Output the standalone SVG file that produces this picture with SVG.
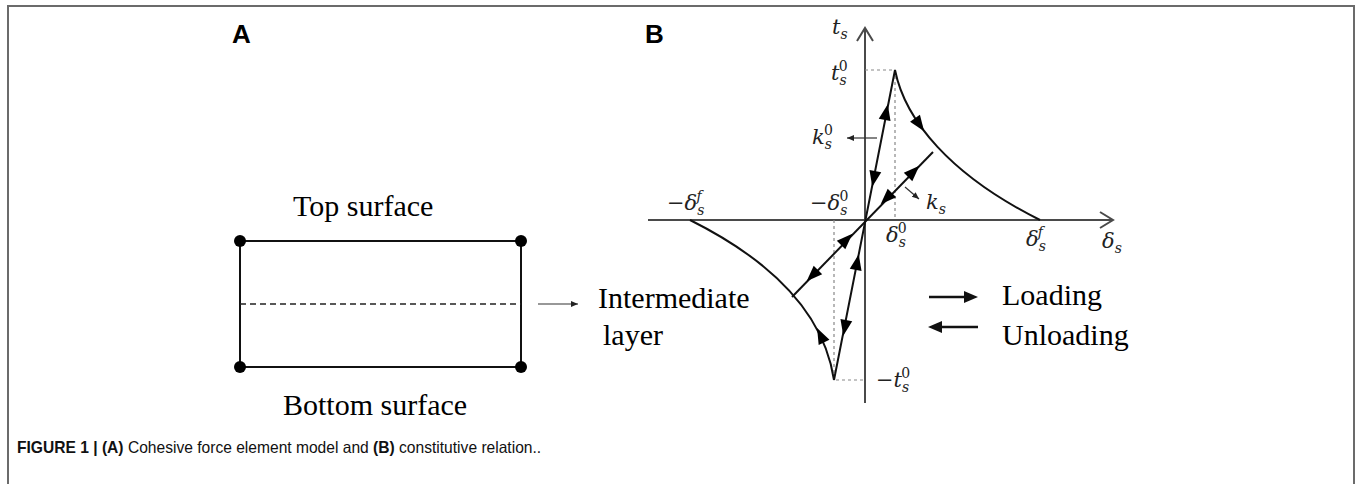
<svg xmlns="http://www.w3.org/2000/svg" width="1356" height="484" viewBox="0 0 1356 484">
<style>
.frame{fill:none;stroke:#6b6b6b;stroke-width:2}
.lbl{font-family:"Liberation Sans",Arial,sans-serif;font-weight:bold;font-size:26px;fill:#000}
.tx{font-family:"Liberation Serif","Times New Roman",serif;font-size:30px;fill:#000}
.m{font-family:"DejaVu Serif","Liberation Serif",serif;font-style:italic;font-size:21px;fill:#222}
.sm{font-size:14px}
.up{font-style:normal}
.ln{stroke:#111;stroke-width:2;fill:none}
.ax{stroke:#4a4a4a;stroke-width:2;fill:none}
.dash{stroke:#888;stroke-width:1.2;stroke-dasharray:3,3;fill:none}
.thin{stroke:#333;stroke-width:1.2;fill:none}
.cap{font-family:"Liberation Sans",Arial,sans-serif;font-size:16.5px;fill:#111}
</style>
<defs>
<path id="ah" d="M9,0 L-7,-6 L-7,6 Z" fill="#000"/>
<marker id="sm" markerWidth="8" markerHeight="8" refX="7" refY="4" orient="auto" markerUnits="userSpaceOnUse">
<path d="M0,1 L7,4 L0,7 Z" fill="#222"/>
</marker>
</defs>
<rect width="1356" height="484" fill="#fff"/>
<path class="frame" d="M8,490 V6 H1354 V490"/>
<text class="lbl" x="232" y="43">A</text>
<text class="lbl" x="645" y="43">B</text>

<g id="panelA">
<g id="element">
<rect x="240" y="241" width="281" height="126" fill="none" stroke="#111" stroke-width="2"/>
<line x1="240" y1="304" x2="521" y2="304" stroke="#222" stroke-width="1.6" stroke-dasharray="6,4"/>
<circle cx="240" cy="241" r="6"/><circle cx="521" cy="241" r="6"/>
<circle cx="240" cy="367" r="6"/><circle cx="521" cy="367" r="6"/>
</g>
<g id="top-label"><text class="tx" x="293" y="216">Top surface</text></g>
<g id="bottom-label"><text class="tx" x="283" y="415">Bottom surface</text></g>
<g id="intermediate-label"><text class="tx" x="598" y="308">Intermediate</text><text class="tx" x="603" y="345">layer</text></g>
</g>

<g id="connectors">
<line class="thin" x1="538" y1="304" x2="578" y2="304" marker-end="url(#sm)"/>
</g>

<g id="panelB">
<g id="axes">
<path class="ax" d="M865,403 V29 M857,41 L865,28 L873,41"/>
<path class="ax" d="M648,220 H1112 M1100,212 L1113,220 L1100,228"/>
</g>
<g id="guides">
<path class="dash" d="M865,70 H895 V220 M834,220 V380 H865"/>
</g>
<g id="curve">
<path class="ln" d="M834,380 L895,70 C905,120 950,175 1040,220"/>
<path class="ln" d="M834,380 C825,320 780,265 690,220"/>
<path class="ln" d="M792,297 L933,152" stroke-width="1.6"/>
</g>
<g id="arrows">
<use href="#ah" transform="translate(886,113) rotate(-78.7)"/>
<use href="#ah" transform="translate(874,178) rotate(101.3)"/>
<use href="#ah" transform="translate(913,172) rotate(-45)"/>
<use href="#ah" transform="translate(887,198) rotate(135)"/>
<use href="#ah" transform="translate(919,124) rotate(55)"/>
<use href="#ah" transform="translate(857,263) rotate(-79)"/>
<use href="#ah" transform="translate(845,327) rotate(101)"/>
<use href="#ah" transform="translate(846,240) rotate(-45)"/>
<use href="#ah" transform="translate(813,275) rotate(135)"/>
<use href="#ah" transform="translate(821,336) rotate(-116)"/>
</g>
<g id="stiffness-pointers">
<line class="thin" x1="877" y1="138" x2="847" y2="138" marker-end="url(#sm)"/>
<line class="thin" x1="905" y1="187" x2="919" y2="199" marker-end="url(#sm)"/>
</g>
<g id="math-labels">
<text class="m" x="832" y="34">t<tspan class="sm" dy="5">s</tspan></text>
<text class="m" x="831" y="80">t<tspan class="sm" dy="5">s</tspan><tspan class="sm up" dx="-8" dy="-14">0</tspan></text>
<text class="m" x="812" y="144">k<tspan class="sm" dy="5">s</tspan><tspan class="sm up" dx="-8" dy="-14">0</tspan></text>
<text class="m" x="926" y="209">k<tspan class="sm" dy="5">s</tspan></text>
<text class="m" x="810" y="210">−δ<tspan class="sm" dy="5">s</tspan><tspan class="sm up" dx="-8" dy="-14">0</tspan></text>
<text class="m" x="667" y="210">−δ<tspan class="sm" dy="5">s</tspan><tspan class="sm" dx="-8" dy="-14">f</tspan></text>
<text class="m" x="886" y="242">δ<tspan class="sm" dy="5">s</tspan><tspan class="sm up" dx="-8" dy="-14">0</tspan></text>
<text class="m" x="1026" y="246">δ<tspan class="sm" dy="5">s</tspan><tspan class="sm" dx="-8" dy="-14">f</tspan></text>
<text class="m" x="1102" y="248">δ<tspan class="sm" dy="5">s</tspan></text>
<text class="m" x="876" y="387">−t<tspan class="sm" dy="5">s</tspan><tspan class="sm up" dx="-8" dy="-14">0</tspan></text>
</g>
<g id="legend">
<line x1="929" y1="297" x2="968" y2="297" stroke="#111" stroke-width="2.5"/>
<path d="M978,297 L964,291 L964,303 Z" fill="#111"/>
<line x1="940" y1="327" x2="978" y2="327" stroke="#111" stroke-width="2.5"/>
<path d="M928,327 L942,321 L942,333 Z" fill="#111"/>
<text class="tx" x="1002" y="305">Loading</text>
<text class="tx" x="1002" y="345">Unloading</text>
</g>
</g>

<g id="caption">
<text class="cap" transform="translate(17,453) scale(0.945,1)" x="0" y="0"><tspan font-weight="bold">FIGURE 1 | (A)</tspan> Cohesive force element model and <tspan font-weight="bold">(B)</tspan> constitutive relation..</text>
</g>
</svg>
